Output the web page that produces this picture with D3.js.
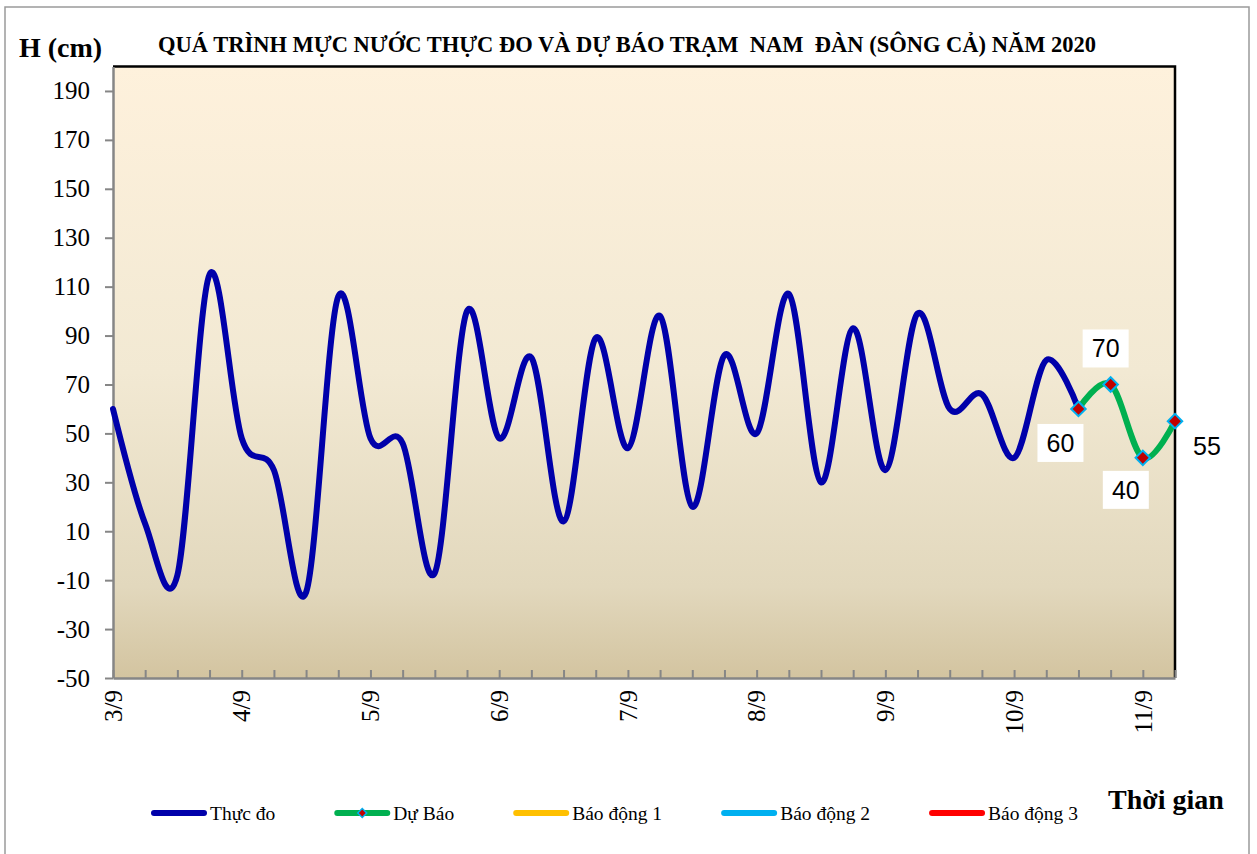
<!DOCTYPE html>
<html>
<head>
<meta charset="utf-8">
<script src="https://cdn.jsdelivr.net/npm/d3@7"></script>
<style>
body{margin:0;background:#fff;}
</style>
</head>
<body>
<div id="chart"></div>
<script>
// du lieu doc tu hinh
var days=["3/9","4/9","5/9","6/9","7/9","8/9","9/9","10/9","11/9"]
var hours=["1h","7h","13h","19h"]
var thucDo=[60,13,-8,115,48,35,-15,106,48,46,-7,100,48,81,14,89,44,98,20,82,50,107,30,93,35,99,60,66,40,80,60]
var duBao=[60,70,40,55]
var duBaoStart=30
var yTicks=[-50,-30,-10,10,30,50,70,90,110,130,150,170,190]
var legendNames=["Thực đo","Dự Báo","Báo động 1","Báo động 2","Báo động 3"]
var legendColors=["#0000AA","#00B050","#FFC000","#00B0F0","#FF0000"]

var width=1257, height=854
var margin={left:113,right:82,top:66.5,bottom:176}
var serif="'Liberation Serif','Times New Roman',serif"
var sans="'Liberation Sans',Arial,sans-serif"

var categories=[]
days.forEach(function(d){
	hours.forEach(function(h){ categories.push(h+" "+d) })
})
categories=categories.slice(0,duBaoStart+duBao.length)

var svg=d3.select("#chart").append("svg").attr("width",width).attr("height",height)

svg.append("rect").attr("x",5).attr("y",7).attr("width",1244).attr("height",860)
	.attr("fill","#fff").attr("stroke","#9a9a9a").attr("stroke-width",1.5)

var x=d3.scalePoint().domain(categories).range([margin.left,width-margin.right])
var y=d3.scaleLinear().domain([-50,200]).range([height-margin.bottom,margin.top])

var grad=svg.append("defs").append("linearGradient").attr("id","bg")
	.attr("x1",0).attr("y1",0).attr("x2",0).attr("y2",1)
grad.append("stop").attr("offset","0%").attr("stop-color","#FEF1DC")
grad.append("stop").attr("offset","50%").attr("stop-color","#F2E9D3")
grad.append("stop").attr("offset","85%").attr("stop-color","#E2D8BD")
grad.append("stop").attr("offset","100%").attr("stop-color","#D3C4A0")

var x0=x(categories[0]), x1=x(categories[categories.length-1])
svg.append("rect").attr("x",x0).attr("y",y(200)).attr("width",x1-x0).attr("height",y(-50)-y(200))
	.attr("fill","url(#bg)")
// khung tren va phai
svg.append("path").attr("d","M"+x0+","+y(200)+"H"+x1+"V"+y(-50))
	.attr("fill","none").attr("stroke","#000").attr("stroke-width",2.5)

// truc y
var yAxis=svg.append("g").attr("transform","translate("+x0+",0)")
	.call(d3.axisLeft(y).tickValues(yTicks).tickSize(8).tickSizeOuter(0).tickFormat(function(d){return String(d)}))
yAxis.select(".domain").attr("stroke","#868686").attr("stroke-width",2.5)
yAxis.selectAll(".tick line").attr("stroke","#868686").attr("stroke-width",2)
yAxis.selectAll("text").attr("font-family",serif).attr("font-size",25).attr("fill","#000").attr("x",-23)

// truc x
var xAxis=svg.append("g").attr("transform","translate(0,"+y(-50)+")")
	.call(d3.axisBottom(x).tickSizeInner(-8).tickSizeOuter(0)
		.tickFormat(function(d,i){ return i%4==0 ? d.split(" ")[1] : "" }))
xAxis.select(".domain").attr("stroke","#868686").attr("stroke-width",2.5)
xAxis.selectAll(".tick line").attr("stroke","#868686").attr("stroke-width",2)
xAxis.selectAll("text")
	.attr("font-family",serif).attr("font-size",25).attr("fill","#000")
	.attr("transform","rotate(-90)").attr("text-anchor","end")
	.attr("x",-12).attr("y",0).attr("dy","0.33em")

var line=d3.line()
	.x(function(d){ return x(categories[d.i]) })
	.y(function(d){ return y(d.v) })
	.curve(d3.curveCardinal.tension(0))

var obs=thucDo.map(function(v,i){ return {i:i,v:v} })
var fc=duBao.map(function(v,i){ return {i:duBaoStart+i,v:v} })

svg.append("path").datum(obs).attr("d",line)
	.attr("fill","none").attr("stroke",legendColors[0]).attr("stroke-width",6)
	.attr("stroke-linecap","round").attr("stroke-linejoin","round")
svg.append("path").datum(fc).attr("d",line)
	.attr("fill","none").attr("stroke",legendColors[1]).attr("stroke-width",6)
	.attr("stroke-linecap","round").attr("stroke-linejoin","round")

var diamond=d3.symbol().type(d3.symbolSquare).size(105)
svg.selectAll(".mk").data(fc).enter().append("path")
	.attr("class","mk")
	.attr("d",diamond)
	.attr("transform",function(d){ return "translate("+x(categories[d.i])+","+y(d.v)+") rotate(45)" })
	.attr("fill","#C00000").attr("stroke","#00B0F0").attr("stroke-width",2)

// nhan so lieu du bao
var labelOffsets=[[-18,34],[-5,-36],[-17,32],[32,25]]
var labels=svg.selectAll(".lb").data(fc).enter().append("g").attr("class","lb")
	.attr("transform",function(d,k){
		return "translate("+(x(categories[d.i])+labelOffsets[k][0])+","+(y(d.v)+labelOffsets[k][1])+")"
	})
labels.append("rect").attr("x",-23).attr("y",-19).attr("width",46).attr("height",38).attr("fill","#fff")
labels.append("text").text(function(d){ return d.v })
	.attr("text-anchor","middle").attr("dy","0.36em")
	.attr("font-family",sans).attr("font-size",25).attr("fill","#000")

// tieu de
svg.append("text").attr("x",627).attr("y",52).attr("text-anchor","middle")
	.attr("font-family",serif).attr("font-weight","bold").attr("font-size",22.5)
	.style("white-space","pre")
	.text("QUÁ TRÌNH MỰC NƯỚC THỰC ĐO VÀ DỰ BÁO TRẠM  NAM  ĐÀN (SÔNG CẢ) NĂM 2020")
svg.append("text").attr("x",19).attr("y",57)
	.attr("font-family",serif).attr("font-weight","bold").attr("font-size",28)
	.text("H (cm)")
svg.append("text").attr("x",1108).attr("y",809)
	.attr("font-family",serif).attr("font-weight","bold").attr("font-size",28)
	.text("Thời gian")

// chu giai
var lx=152
var legend=svg.append("g")
legendNames.forEach(function(name,k){
	var g=legend.append("g").attr("transform","translate("+lx+",813)")
	g.append("line").attr("x1",2).attr("x2",52).attr("y1",0).attr("y2",0)
		.attr("stroke",legendColors[k]).attr("stroke-width",6).attr("stroke-linecap","round")
	if(k==1){
		g.append("path").attr("d",d3.symbol().type(d3.symbolSquare).size(40))
			.attr("transform","translate(27,0) rotate(45)")
			.attr("fill","#C00000").attr("stroke","#00B0F0").attr("stroke-width",1.5)
	}
	var t=g.append("text").attr("x",58).attr("y",7)
		.attr("font-family",serif).attr("font-size",19.5).attr("fill","#000").text(name)
	lx+=58+t.node().getComputedTextLength()+60
})
</script>
</body>
</html>
